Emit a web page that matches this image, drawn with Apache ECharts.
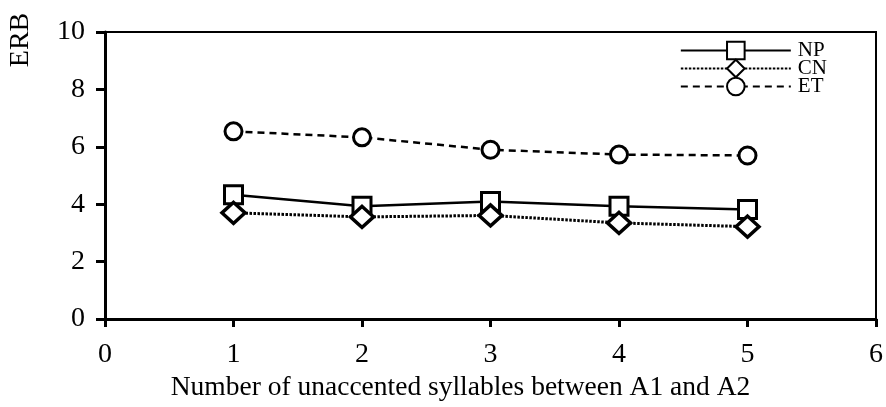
<!DOCTYPE html>
<html>
<head>
<meta charset="utf-8">
<script src="https://cdn.jsdelivr.net/npm/echarts@6/dist/echarts.min.js"></script>
<style>
  html, body { margin: 0; padding: 0; background: #fff; }
  #main { width: 886px; height: 407px; }
</style>
</head>
<body>
<div id="main"></div>
<script>
// data
var xs = [1, 2, 3, 4, 5];
var np = [4.33, 3.93, 4.1, 3.93, 3.82];
var cn = [3.7, 3.56, 3.61, 3.35, 3.22];
var et = [6.54, 6.33, 5.9, 5.73, 5.7];

function pairs(v) {
  return xs.map(function (x, i) { return [x, v[i]]; });
}

var font = 'Liberation Serif';
var chart = echarts.init(document.getElementById('main'));

var option = {
  backgroundColor: '#fff',
  animation: false,
  grid: {
    left: 105, right: 9, top: 32, bottom: 87,
    show: true, borderColor: '#000', borderWidth: 2
  },
  legend: {
    right: 54, top: 35, orient: 'vertical',
    itemWidth: 110, itemHeight: 22, itemGap: -3,
    textStyle: { fontFamily: font, fontSize: 21, color: '#000', padding: [0, 0, 0, 2] },
    data: ['NP', 'CN', 'ET']
  },
  xAxis: {
    type: 'value', min: 0, max: 6, interval: 1,
    name: 'Number of unaccented syllables between A1 and A2',
    nameLocation: 'middle', nameGap: 52,
    nameTextStyle: { fontFamily: font, fontSize: 27.5, color: '#000', padding: [0, 60, 0, 0] },
    axisLine: { lineStyle: { color: '#000', width: 3 } },
    axisTick: { length: 8, lineStyle: { color: '#000', width: 3 } },
    axisLabel: { fontFamily: font, fontSize: 28, color: '#000', margin: 22 },
    splitLine: { show: false }
  },
  yAxis: {
    type: 'value', min: 0, max: 10, interval: 2,
    axisLine: { show: true, lineStyle: { color: '#000', width: 3 } },
    axisTick: { show: true, length: 9, lineStyle: { color: '#000', width: 3 } },
    axisLabel: { fontFamily: font, fontSize: 28, color: '#000', margin: 20 },
    splitLine: { show: false }
  },
  graphic: [{
    type: 'text', x: 21, y: 40, rotation: Math.PI / 2,
    style: {
      text: 'ERB', font: '28px "Liberation Serif"', fill: '#000',
      align: 'center', verticalAlign: 'middle'
    }
  }],
  series: [
    {
      name: 'NP', type: 'line', data: pairs(np),
      symbol: 'rect', symbolSize: 18,
      lineStyle: { color: '#000', width: 2.5, type: 'solid' },
      itemStyle: { color: '#fff', borderColor: '#000', borderWidth: 3 }
    },
    {
      name: 'CN', type: 'line', data: pairs(cn),
      symbol: 'diamond', symbolSize: [23, 21],
      lineStyle: { color: '#000', width: 3, type: [2.5, 1.5] },
      itemStyle: { color: '#fff', borderColor: '#000', borderWidth: 3.5 }
    },
    {
      name: 'ET', type: 'line', data: pairs(et),
      symbol: 'circle', symbolSize: 17,
      lineStyle: { color: '#000', width: 2.5, type: [7, 5] },
      itemStyle: { color: '#fff', borderColor: '#000', borderWidth: 3 }
    }
  ]
};

chart.setOption(option);
</script>
</body>
</html>
